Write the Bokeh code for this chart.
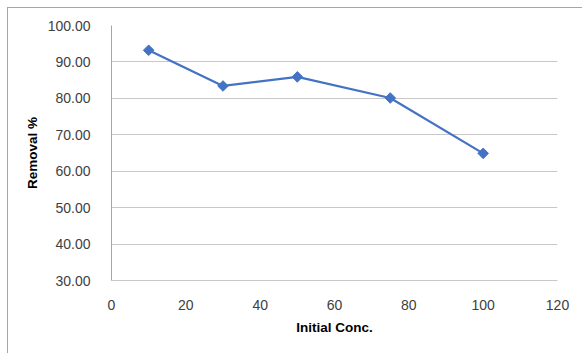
import math
from bokeh.plotting import figure
from bokeh.models import Range1d, NumeralTickFormatter
from bokeh.embed import file_html
from bokeh.resources import INLINE

# Removal efficiency versus initial concentration
initial_conc = [10, 30, 50, 75, 100]
removal_pct = [93.2, 83.4, 85.9, 80.1, 64.9]

x_ticks = [0, 20, 40, 60, 80, 100, 120]
y_ticks = [30, 40, 50, 60, 70, 80, 90, 100]

FONT = "Liberation Sans"
BLUE = "#4472C4"
GRID = "#C8C8C8"

p = figure(
    width=575, height=346,
    output_backend="svg", toolbar_location=None,
    x_range=Range1d(0, 120), y_range=Range1d(30, 100),
    min_border_left=103, min_border_right=26,
    min_border_top=17, min_border_bottom=74,
)
p.margin = (7, 0, 0, 7)
p.styles = {"border-top": "1px solid #A6A6A6", "border-left": "1px solid #A6A6A6"}

p.outline_line_color = None
p.background_fill_color = "white"
p.border_fill_color = "white"

p.line(initial_conc, removal_pct, line_color=BLUE, line_width=2.25)
p.scatter(initial_conc, removal_pct, marker="square", size=7.5, angle=math.pi / 4,
          fill_color=BLUE, line_color=BLUE)

# x axis
p.xaxis.ticker = x_ticks
p.xaxis.axis_label = "Initial Conc."
p.xaxis.axis_label_text_font = FONT
p.xaxis.axis_label_text_font_style = "bold"
p.xaxis.axis_label_text_font_size = "13.5px"
p.xaxis.axis_label_text_color = "#000000"
p.xaxis.axis_label_standoff = 7
p.xaxis.major_label_text_font = FONT
p.xaxis.major_label_text_font_size = "14px"
p.xaxis.major_label_text_color = "#404040"
p.xaxis.major_label_standoff = 13
p.xaxis.major_tick_line_color = None
p.xaxis.minor_tick_line_color = None
p.xaxis.axis_line_color = GRID

# y axis
p.yaxis.ticker = y_ticks
p.yaxis.formatter = NumeralTickFormatter(format="0.00")
p.yaxis.axis_label = "Removal %"
p.yaxis.axis_label_text_font = FONT
p.yaxis.axis_label_text_font_style = "bold"
p.yaxis.axis_label_text_font_size = "13.5px"
p.yaxis.axis_label_text_color = "#000000"
p.yaxis.axis_label_standoff = 5
p.yaxis.major_label_text_font = FONT
p.yaxis.major_label_text_font_size = "14px"
p.yaxis.major_label_text_color = "#404040"
p.yaxis.major_label_standoff = 15
p.yaxis.major_tick_line_color = None
p.yaxis.minor_tick_line_color = None
p.yaxis.axis_line_color = "#A6A6A6"

p.xgrid.grid_line_color = None
p.ygrid.grid_line_color = GRID
p.ygrid.grid_line_width = 1

open("out.html", "w").write(file_html(p, INLINE))
